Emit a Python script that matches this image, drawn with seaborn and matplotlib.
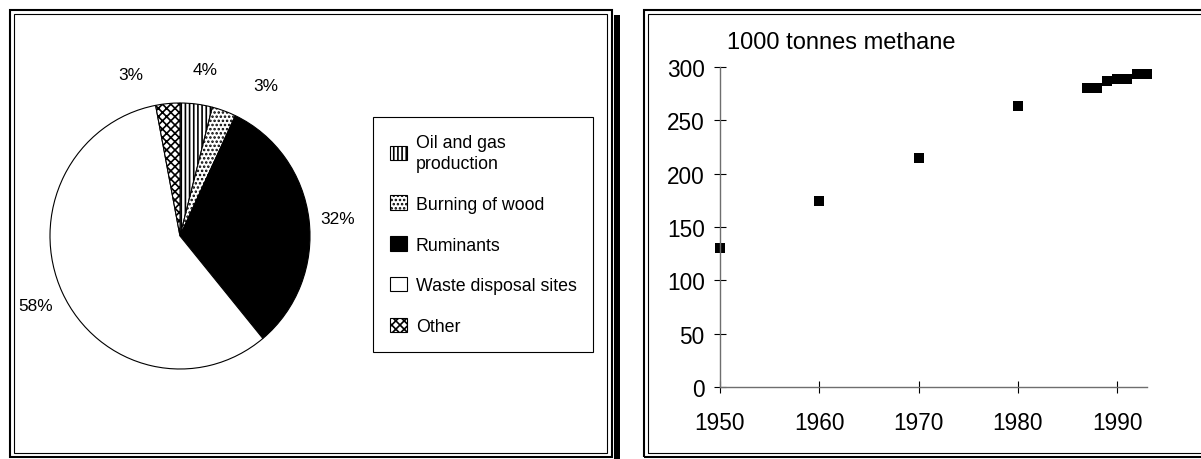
import numpy as np
import seaborn as sns
import matplotlib.pyplot as plt
from matplotlib.patches import Rectangle

# Methane sources (share in %), clockwise from 12 o'clock
sources = ["Oil and gas\nproduction", "Burning of wood", "Ruminants",
           "Waste disposal sites", "Other"]
shares = [4, 3, 32, 58, 3]
fills = ["white", "white", "black", "white", "white"]
hatches = ["||||", "....", "", "", "xxxx"]

# Methane emissions over time (1000 tonnes)
years = [1950, 1960, 1970, 1980, 1987, 1988, 1989, 1990, 1991, 1992, 1993]
methane = [130, 174, 215, 263, 280, 280, 287, 289, 289, 293, 293]
year_ticks = [1950, 1960, 1970, 1980, 1990]
value_ticks = [0, 50, 100, 150, 200, 250, 300]

sns.set_theme(style="white")
plt.rcParams['font.family'] = ['Liberation Sans', 'DejaVu Sans']
plt.rcParams['text.color'] = 'black'
plt.rcParams['hatch.linewidth'] = 1.2

W, H = 1201, 460
fig = plt.figure(figsize=(W / 100, H / 100), dpi=100)


def fbox(x0, y0, x1, y1):
    # pixel box (from top-left) -> figure fraction [left, bottom, width, height]
    return [x0 / W, 1 - y1 / H, (x1 - x0) / W, (y1 - y0) / H]


def frame(x0, y0, x1, y1, lw):
    l, b, w, h = fbox(x0, y0, x1, y1)
    fig.add_artist(Rectangle((l, b), w, h, transform=fig.transFigure,
                             fill=False, edgecolor="black", linewidth=lw))


# panel borders (double lines + shadow on the left panel)
frame(10, 11, 612, 458, 1.5)
frame(14, 15, 607, 454, 0.8)
l, b, w, h = fbox(614, 16, 620, 462)
fig.add_artist(Rectangle((l, b), w, h, transform=fig.transFigure,
                         facecolor="black", edgecolor="none"))
frame(644, 11, 1210, 458, 1.5)
frame(648, 15, 1210, 454, 0.8)

# ---- pie chart ----
ax1 = fig.add_axes(fbox(50, 104, 310, 370))
wedges, texts, autotexts = ax1.pie(
    shares, colors=fills, hatch=hatches, startangle=90, counterclock=False,
    autopct="%1.0f%%", pctdistance=1.25,
    wedgeprops=dict(edgecolor="black", linewidth=0.8),
    textprops=dict(fontsize=12.4, color="black"))
ax1.set_aspect("auto")
ax1.set_xlim(-1, 1)
ax1.set_ylim(-1, 1)

# spread the small labels apart like the original
nudge = [-1.5, -10.5, -1, 0, 12]
dist = [1.27, 1.31, 1.22, 1.23, 1.27]
for wdg, t, dn, d in zip(wedges, autotexts, nudge, dist):
    th = np.deg2rad((wdg.theta1 + wdg.theta2) / 2 + dn)
    t.set_position((d * np.cos(th), d * np.sin(th)))

leg = ax1.legend(wedges, sources, loc="upper left",
                 bbox_to_anchor=(373 / W, 1 - 118 / H),
                 bbox_transform=fig.transFigure, borderaxespad=0,
                 fontsize=12.8, frameon=True, fancybox=False,
                 handlelength=0.95, handleheight=0.85, handletextpad=0.5,
                 labelspacing=1.33, borderpad=0.95)
leg.get_frame().set_edgecolor("black")
leg.get_frame().set_linewidth(0.8)
leg.get_frame().set_alpha(1)
for t in leg.get_texts():
    t.set_linespacing(1.3)

# ---- scatter chart ----
ax2 = fig.add_axes(fbox(720, 68, 1147, 388))
sns.scatterplot(x=years, y=methane, marker="s", color="black", s=52,
                linewidth=0, clip_on=False, ax=ax2)
ax2.set_xlim(1950, 1993)
ax2.set_ylim(0, 300)
ax2.set_xticks(year_ticks)
ax2.set_yticks(value_ticks)
for side in ["top", "right"]:
    ax2.spines[side].set_visible(False)
for side in ["left", "bottom"]:
    ax2.spines[side].set_color("#6e6e6e")
    ax2.spines[side].set_linewidth(1.0)
ax2.tick_params(axis="both", direction="inout", length=8, width=0.8,
                color="black", labelsize=16.3, labelcolor="black",
                bottom=True, left=True)
ax2.tick_params(axis="y", pad=7)
ax2.tick_params(axis="x", pad=13)
ax2.set_facecolor("white")
fig.text(727 / W, 1 - 43 / H, "1000 tonnes methane", fontsize=17,
         ha="left", va="center", color="black")

fig.savefig("out.png", dpi=100, facecolor="white")
